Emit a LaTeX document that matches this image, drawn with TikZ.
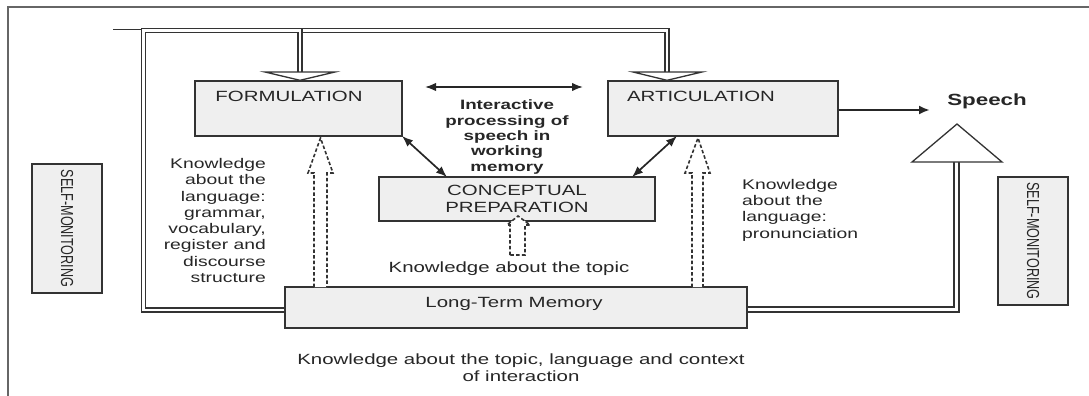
\documentclass[tikz,border=0pt]{standalone}
\usepackage{fontspec}
\setmainfont[FakeStretch=1.38]{Liberation Sans}
\newfontfamily\plainsans{Liberation Sans}
\usetikzlibrary{arrows.meta}
\definecolor{ln}{HTML}{333333}
\definecolor{bx}{HTML}{EFEFEF}
\definecolor{tx}{HTML}{262626}
\tikzset{
  box/.style={draw=ln, line width=1.4pt, fill=bx, inner sep=0pt},
  txt/.style={text=tx, inner sep=0pt, font=\fontsize{14.8}{17}\selectfont},
  side/.style={text=tx, inner sep=0pt, font=\fontsize{14}{16.3}\selectfont},
  bold/.style={text=tx, inner sep=0pt, font=\bfseries\fontsize{13.6}{15.3}\selectfont},
  channel/.style={draw=ln, line width=1.3pt, double=white, double distance=2.6pt},
  wide channel/.style={draw=ln, line width=1.6pt, double=white, double distance=3.6pt},
  hollow/.style={draw=ln, line width=1.3pt, fill=white, line join=miter},
  dashhollow/.style={draw=ln, line width=1.6pt, dash pattern=on 3.5pt off 2.2pt, fill=white},
  twoway/.style={draw=black!85, line width=1.7pt, {Latex[length=11pt,width=8.5pt]}-{Latex[length=11pt,width=8.5pt]}},
  oneway/.style={draw=black!85, line width=2.2pt, -{Latex[length=11pt,width=9pt]}},
  frame/.style={draw=gray!80!black, line width=1.2pt},
  selfmon/.style={box, minimum width=70pt, minimum height=129pt},
}
\begin{document}
\begin{tikzpicture}[x=1pt,y=-1pt]
\useasboundingbox (0,0) rectangle (1089,396);
% outer frame
\draw[frame] (8,396) -- (8,7) -- (1089,7);

% boxes
\node[box, minimum width=207pt, minimum height=55pt] (form) at (298.5,108.5) {};
\node[txt] (formt) at (289,96.5) {FORMULATION};
\node[box, minimum width=230pt, minimum height=55pt] (artic) at (723,108.5) {};
\node[txt] (artict) at (701,96.5) {ARTICULATION};
\node[box, minimum width=276pt, minimum height=44pt, align=center, text=tx, font=\fontsize{14.8}{17}\selectfont] (concept) at (517,199) {CONCEPTUAL\\PREPARATION};
\node[box, minimum width=462pt, minimum height=41pt] (ltm) at (516,307.5) {};
\node[txt] (ltmt) at (514,303.5) {Long-Term Memory};

% self-monitoring boxes
\node[selfmon] (smL) at (67,228.5) {};
\node[rotate=-90, text=tx, inner sep=0pt] (smLt) at (smL.center) {\scalebox{1}[1.38]{\plainsans\fontsize{12.6}{14}\selectfont SELF-MONITORING}};
\node[selfmon, minimum height=128pt] (smR) at (1033,241) {};
\node[rotate=-90, text=tx, inner sep=0pt] (smRt) at (smR.center) {\scalebox{1}[1.38]{\plainsans\fontsize{12.6}{14}\selectfont SELF-MONITORING}};

% feedback channels (double lines)
\coordinate (tl) at (143.5,30.5);
\coordinate (fdown) at (300,72);
\coordinate (adown) at (667,72);
\draw[channel] (tl) -- (667,30.5) -- (adown);
\draw[channel] (ltm.west |- 0,310) -- (143.5,310) -- (tl) -- (300,30.5) -- (fdown);
\draw[ln, line width=1.2pt] (113,29.2) -- (141.5,29.2);
\coordinate (spbase) at (956.5,162);
\draw[wide channel] (ltm.east |- 0,309.5) -- (956.5,309.5) -- (spbase);

% hollow arrowheads
\draw[hollow] (265,72) -- (335,72) -- (form.north -| 300,0) -- cycle;
\draw[hollow] (633,72) -- (702,72) -- (artic.north -| 667,0) -- cycle;
\node[txt, font=\bfseries\fontsize{16.2}{18}\selectfont] (speech) at (987,101) {Speech};
\draw[hollow] (912,162) -- (1002,162) -- (957,124) -- cycle;

% output arrow
\coordinate (sptip) at (930,110);
\draw[oneway] (artic.east |- 0,110) -- (sptip);
% interactive arrows
\coordinate (ia) at (425,87);
\coordinate (ib) at (583,87);
\draw[twoway] (ia) -- (ib);
\coordinate (fc) at (447,177);
\coordinate (ac) at (632,177);
\coordinate (fs) at (402,136);
\coordinate (as) at (677,136);
\draw[twoway] (fs) -- (fc);
\draw[twoway] (as) -- (ac);
\node[bold, align=center] (inter) at (507,137) {Interactive\\processing of\\speech in\\working\\memory};

% dashed knowledge arrows
\draw[dashhollow] (314,287) -- (314,173) -- (308,173) -- (320.5,138) -- (333,173) -- (327,173) -- (327,287);
\draw[dashhollow] (692,287) -- (692,173) -- (685,173) -- (698,138) -- (710,173) -- (703,173) -- (703,287);
\draw[dashhollow] (510,255) -- (510,225) -- (507,225) -- (518,216) -- (530,225) -- (525,225) -- (525,255) -- cycle;

% labels
\node[side, align=right, anchor=east] (klang) at (266,220.5) {Knowledge\\about the\\language:\\grammar,\\vocabulary,\\register and\\discourse\\structure};
\node[side, align=left, anchor=west] (kpron) at (742,210) {Knowledge\\about the\\language:\\pronunciation};
\node[txt] (ktopic) at (509,269) {Knowledge about the topic};
\node[txt, align=center] (kall) at (521,367.5) {Knowledge about the topic, language and context\\of interaction};
\end{tikzpicture}
\end{document}
